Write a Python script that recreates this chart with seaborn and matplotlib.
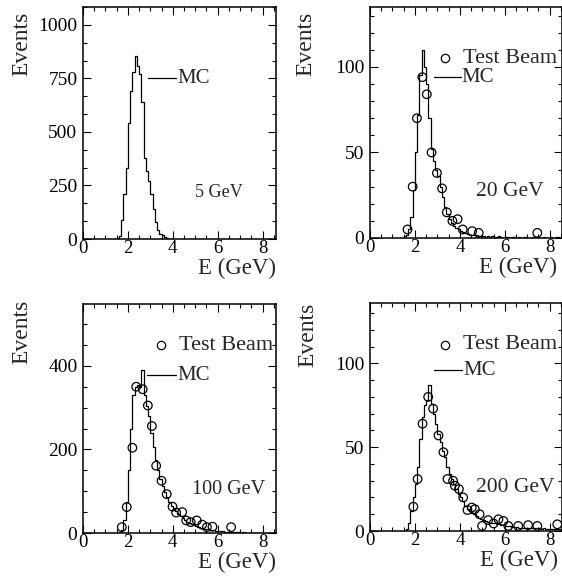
import numpy as np
import pandas as pd
import matplotlib
matplotlib.use('Agg')
import matplotlib.pyplot as plt
from matplotlib.ticker import MultipleLocator
import seaborn as sns

# MC histograms: counts per 0.1 GeV bin, first bin starts at 1.4 GeV
mc_start = 1.4
mc_5 = [0, 3, 15, 90, 210, 330, 540, 690, 780, 855,
        810, 770, 640, 380, 320, 270, 210, 140, 80, 40,
        22, 18, 8, 3, 0, 0]
mc_20 = [0, 1, 2, 5, 12, 28, 50, 72, 95, 110,
         100, 90, 70, 52, 45, 40, 36, 30, 24, 18,
         14, 11, 9, 7, 6, 5, 4, 3.5, 3, 2.5,
         2, 2, 1.5, 1.5, 1, 1, 1, 0.5, 1, 0.5,
         1, 0.5, 0.5, 1, 0.5, 0, 0.5, 0.5, 0, 0.5,
         0.5, 0, 0.5, 0, 0.5, 0.5, 0, 0, 0.5, 0,
         0.5, 0, 0, 0.5, 0, 0, 0.5, 0, 0, 0.5,
         0, 0]
mc_100 = [0, 0, 2, 8, 30, 75, 150, 250, 330, 350,
          355, 350, 390, 330, 305, 280, 240, 205, 175, 150,
          130, 112, 97, 85, 75, 65, 58, 52, 46, 40,
          35, 30, 27, 24, 21, 19, 17, 15, 13, 11,
          10, 9, 8, 7, 6, 5, 5, 4, 4, 3,
          3, 3, 2, 2, 2, 2, 1, 2, 1, 1,
          1, 1, 1, 1, 0, 1, 1, 0, 1, 0,
          1, 0]
mc_200 = [0, 0, 1, 5, 12, 20, 28, 38, 55, 68,
          75, 78, 87, 76, 70, 64, 58, 53, 48, 44,
          38, 34, 31, 28, 25, 22, 20, 18, 15, 13,
          12, 11, 10, 9, 8, 7, 6.5, 6, 5.5, 5,
          4.5, 4.5, 4, 4, 3.5, 3.5, 3, 3, 3, 2.5,
          2.5, 2.5, 2, 2, 2, 2, 2, 1.5, 1.5, 1.5,
          1.5, 1.5, 1, 1.5, 1, 1, 1, 1, 1, 1,
          1, 1]

# Test beam points
tb20_e = [1.67, 1.90, 2.09, 2.33, 2.53, 2.74, 2.98, 3.21, 3.42, 3.67, 3.90, 4.13, 4.55, 4.84, 7.45]
tb20_n = [5, 30, 70, 94, 84, 50, 38, 29, 15, 10, 11, 5, 4, 3, 3]
tb100_e = [1.73, 1.95, 2.20, 2.37, 2.66, 2.89, 3.07, 3.26, 3.50, 3.73, 3.99, 4.15, 4.42, 4.60,
           4.80, 5.07, 5.31, 5.52, 5.77, 6.60]
tb100_n = [14, 62, 204, 350, 344, 305, 256, 161, 125, 93, 63, 49, 50, 30, 26, 30, 20, 14, 15, 14]
tb200_e = [1.93, 2.12, 2.34, 2.59, 2.81, 3.05, 3.27, 3.45, 3.70, 3.78, 3.96, 4.15, 4.34, 4.53,
           4.67, 4.88, 4.99, 5.26, 5.50, 5.72, 5.94, 6.16, 6.60, 7.04, 7.45, 8.34]
tb200_n = [14.5, 31, 64, 80, 73, 57, 47, 31, 30, 27, 25, 20, 12.5, 14, 13, 10, 3, 6.5, 4.5, 7,
           6, 3, 3, 3.5, 3, 4]

energies = ['5 GeV', '20 GeV', '100 GeV', '200 GeV']

sns.set_style('ticks')
plt.rcParams['font.family'] = ['Liberation Serif', 'DejaVu Serif']

W, H = 562, 583
fig = plt.figure(figsize=(W / 100, H / 100), dpi=100)


def px_axes(left, top, right, bottom):
    return fig.add_axes([left / W, (H - bottom) / H, (right - left) / W, (bottom - top) / H])


panels = [
    dict(box=(83, 7, 276, 239), mc=mc_5, tb=None, ylim=1084, ymaj=250, ymin=250 / 3,
         label=energies[0], lab_xy=(5.0, 215), lab_fs=13,
         mc_leg=(2.9, 4.15, 752), tb_leg=None, ev_x=-61, ev_top=5, ex_right=0, ex_dy=29),
    dict(box=(370, 7, 562, 238), mc=mc_20, tb=(tb20_e, tb20_n), ylim=135, ymaj=50, ymin=10,
         label=energies[1], lab_xy=(4.7, 27), lab_fs=15.5,
         mc_leg=(2.83, 4.04, 94), tb_leg=(3.33, 105), ev_x=-64, ev_top=5, ex_right=5, ex_dy=29),
    dict(box=(83, 304, 276, 533), mc=mc_100, tb=(tb100_e, tb100_n), ylim=548, ymaj=200, ymin=50,
         label=energies[2], lab_xy=(4.85, 105), lab_fs=14.5,
         mc_leg=(2.84, 4.14, 378), tb_leg=(3.47, 449), ev_x=-61, ev_top=-4, ex_right=0, ex_dy=29),
    dict(box=(370, 303, 562, 531), mc=mc_200, tb=(tb200_e, tb200_n), ylim=136, ymaj=50, ymin=10,
         label=energies[3], lab_xy=(4.7, 26), lab_fs=15.5,
         mc_leg=(2.86, 4.09, 96), tb_leg=(3.33, 111), ev_x=-62, ev_top=0, ex_right=4, ex_dy=29),
]

for p in panels:
    left, top, right, bottom = p['box']
    ax = px_axes(left, top, right, bottom)
    wpx, hpx = right - left, bottom - top

    counts = np.array(p['mc'], dtype=float)
    edges = mc_start + 0.1 * np.arange(len(counts) + 1)
    hist_df = pd.DataFrame({'E': 0.5 * (edges[:-1] + edges[1:]), 'n': counts})
    sns.histplot(data=hist_df, x='E', weights='n', bins=list(edges), element='step', fill=False,
                 color='black', linewidth=0.9, ax=ax)

    if p['tb'] is not None:
        tb_df = pd.DataFrame({'E': p['tb'][0], 'n': p['tb'][1]})
        sns.scatterplot(data=tb_df, x='E', y='n', marker='o', s=38, facecolor='none',
                        edgecolor='black', linewidth=0.9, ax=ax, zorder=3)

    ax.set_xlim(0, 8.6 if right < 560 else 8.55)
    ax.set_ylim(0, p['ylim'])
    ax.xaxis.set_major_locator(MultipleLocator(2))
    ax.xaxis.set_minor_locator(MultipleLocator(0.5))
    ax.yaxis.set_major_locator(MultipleLocator(p['ymaj']))
    ax.yaxis.set_minor_locator(MultipleLocator(p['ymin']))
    ax.tick_params(which='both', direction='in', top=True, right=True, labelsize=14,
                   width=0.8, colors='black')
    ax.tick_params(axis='x', labelsize=13.5)
    ax.tick_params(which='major', length=6)
    ax.tick_params(axis='x', which='major', pad=0.5)
    ax.tick_params(axis='y', which='major', pad=4)
    ax.tick_params(which='minor', length=3)
    for s in ax.spines.values():
        s.set_visible(True)
        s.set_linewidth(1.1)
        s.set_color('black')
    ax.set_xlabel('')
    ax.set_ylabel('')

    ax.text(p['ev_x'] / wpx, 1 - p['ev_top'] / hpx, 'Events', rotation=90, ha='center',
            va='top', fontsize=17, transform=ax.transAxes)
    ax.text(1 - p['ex_right'] / wpx, -p['ex_dy'] / hpx, 'E (GeV)', ha='right', va='center',
            fontsize=16.5, transform=ax.transAxes, clip_on=False)

    ax.text(p['lab_xy'][0], p['lab_xy'][1], p['label'], ha='left', va='center',
            fontsize=p['lab_fs'])

    x0, x1, yl = p['mc_leg']
    ax.plot([x0, x1], [yl, yl], color='black', lw=0.9)
    ax.text(x1 + 0.05, yl, 'MC', ha='left', va='center', fontsize=15)
    if p['tb_leg'] is not None:
        mx, my = p['tb_leg']
        ax.plot([mx], [my], marker='o', ms=6, mfc='none', mec='black', mew=0.9)
        ax.text(mx + 0.82, my, 'Test Beam', ha='left', va='center', fontsize=16, clip_on=False)

fig.savefig('out.png', dpi=100)
